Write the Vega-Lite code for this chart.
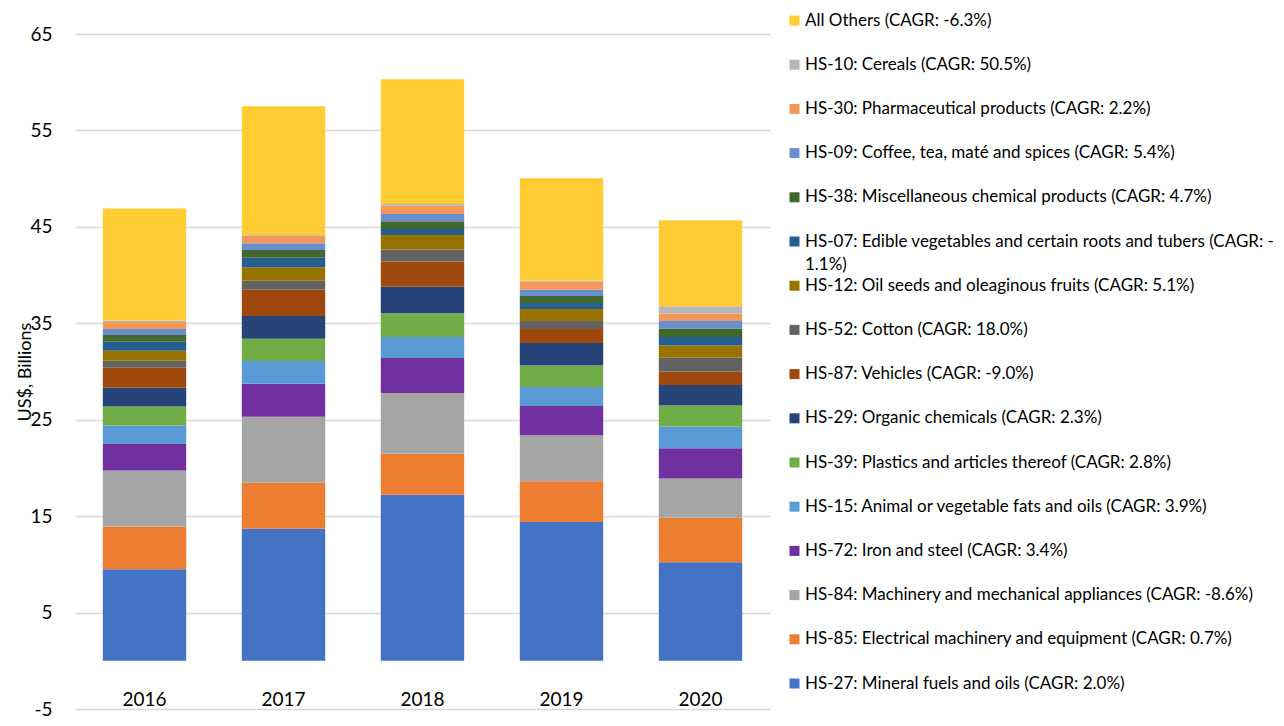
{
  "$schema": "https://vega.github.io/schema/vega-lite/v6.json",
  "width": 695,
  "height": 675,
  "autosize": {"type": "none"},
  "padding": {"left": 75, "top": 34, "right": 514, "bottom": 17},
  "background": "white",
  "config": {
    "font": "Lato",
    "view": {"stroke": null},
    "axis": {"labelColor": "#000000", "titleColor": "#000000", "labelFont": "Lato", "titleFont": "Lato"},
    "legend": {"labelFont": "Lato"}
  },
  "data": {
    "values": [
      {"series": "HS-27: Mineral fuels and oils (CAGR: 2.0%)", "k": 1, "year": "2016", "value": 9.50},
      {"series": "HS-27: Mineral fuels and oils (CAGR: 2.0%)", "k": 1, "year": "2017", "value": 13.69},
      {"series": "HS-27: Mineral fuels and oils (CAGR: 2.0%)", "k": 1, "year": "2018", "value": 17.22},
      {"series": "HS-27: Mineral fuels and oils (CAGR: 2.0%)", "k": 1, "year": "2019", "value": 14.38},
      {"series": "HS-27: Mineral fuels and oils (CAGR: 2.0%)", "k": 1, "year": "2020", "value": 10.23},
      {"series": "HS-85: Electrical machinery and equipment (CAGR: 0.7%)", "k": 2, "year": "2016", "value": 4.43},
      {"series": "HS-85: Electrical machinery and equipment (CAGR: 0.7%)", "k": 2, "year": "2017", "value": 4.77},
      {"series": "HS-85: Electrical machinery and equipment (CAGR: 0.7%)", "k": 2, "year": "2018", "value": 4.25},
      {"series": "HS-85: Electrical machinery and equipment (CAGR: 0.7%)", "k": 2, "year": "2019", "value": 4.25},
      {"series": "HS-85: Electrical machinery and equipment (CAGR: 0.7%)", "k": 2, "year": "2020", "value": 4.60},
      {"series": "HS-84: Machinery and mechanical appliances (CAGR: -8.6%)", "k": 3, "year": "2016", "value": 5.81},
      {"series": "HS-84: Machinery and mechanical appliances (CAGR: -8.6%)", "k": 3, "year": "2017", "value": 6.85},
      {"series": "HS-84: Machinery and mechanical appliances (CAGR: -8.6%)", "k": 3, "year": "2018", "value": 6.29},
      {"series": "HS-84: Machinery and mechanical appliances (CAGR: -8.6%)", "k": 3, "year": "2019", "value": 4.77},
      {"series": "HS-84: Machinery and mechanical appliances (CAGR: -8.6%)", "k": 3, "year": "2020", "value": 4.08},
      {"series": "HS-72: Iron and steel (CAGR: 3.4%)", "k": 4, "year": "2016", "value": 2.73},
      {"series": "HS-72: Iron and steel (CAGR: 3.4%)", "k": 4, "year": "2017", "value": 3.42},
      {"series": "HS-72: Iron and steel (CAGR: 3.4%)", "k": 4, "year": "2018", "value": 3.63},
      {"series": "HS-72: Iron and steel (CAGR: 3.4%)", "k": 4, "year": "2019", "value": 3.01},
      {"series": "HS-72: Iron and steel (CAGR: 3.4%)", "k": 4, "year": "2020", "value": 3.14},
      {"series": "HS-15: Animal or vegetable fats and oils (CAGR: 3.9%)", "k": 5, "year": "2016", "value": 1.94},
      {"series": "HS-15: Animal or vegetable fats and oils (CAGR: 3.9%)", "k": 5, "year": "2017", "value": 2.35},
      {"series": "HS-15: Animal or vegetable fats and oils (CAGR: 3.9%)", "k": 5, "year": "2018", "value": 2.18},
      {"series": "HS-15: Animal or vegetable fats and oils (CAGR: 3.9%)", "k": 5, "year": "2019", "value": 1.97},
      {"series": "HS-15: Animal or vegetable fats and oils (CAGR: 3.9%)", "k": 5, "year": "2020", "value": 2.25},
      {"series": "HS-39: Plastics and articles thereof (CAGR: 2.8%)", "k": 6, "year": "2016", "value": 1.97},
      {"series": "HS-39: Plastics and articles thereof (CAGR: 2.8%)", "k": 6, "year": "2017", "value": 2.32},
      {"series": "HS-39: Plastics and articles thereof (CAGR: 2.8%)", "k": 6, "year": "2018", "value": 2.46},
      {"series": "HS-39: Plastics and articles thereof (CAGR: 2.8%)", "k": 6, "year": "2019", "value": 2.25},
      {"series": "HS-39: Plastics and articles thereof (CAGR: 2.8%)", "k": 6, "year": "2020", "value": 2.18},
      {"series": "HS-29: Organic chemicals (CAGR: 2.3%)", "k": 7, "year": "2016", "value": 1.94},
      {"series": "HS-29: Organic chemicals (CAGR: 2.3%)", "k": 7, "year": "2017", "value": 2.35},
      {"series": "HS-29: Organic chemicals (CAGR: 2.3%)", "k": 7, "year": "2018", "value": 2.77},
      {"series": "HS-29: Organic chemicals (CAGR: 2.3%)", "k": 7, "year": "2019", "value": 2.32},
      {"series": "HS-29: Organic chemicals (CAGR: 2.3%)", "k": 7, "year": "2020", "value": 2.11},
      {"series": "HS-87: Vehicles (CAGR: -9.0%)", "k": 8, "year": "2016", "value": 2.07},
      {"series": "HS-87: Vehicles (CAGR: -9.0%)", "k": 8, "year": "2017", "value": 2.73},
      {"series": "HS-87: Vehicles (CAGR: -9.0%)", "k": 8, "year": "2018", "value": 2.62},
      {"series": "HS-87: Vehicles (CAGR: -9.0%)", "k": 8, "year": "2019", "value": 1.45},
      {"series": "HS-87: Vehicles (CAGR: -9.0%)", "k": 8, "year": "2020", "value": 1.39},
      {"series": "HS-52: Cotton (CAGR: 18.0%)", "k": 9, "year": "2016", "value": 0.72},
      {"series": "HS-52: Cotton (CAGR: 18.0%)", "k": 9, "year": "2017", "value": 0.94},
      {"series": "HS-52: Cotton (CAGR: 18.0%)", "k": 9, "year": "2018", "value": 1.22},
      {"series": "HS-52: Cotton (CAGR: 18.0%)", "k": 9, "year": "2019", "value": 0.83},
      {"series": "HS-52: Cotton (CAGR: 18.0%)", "k": 9, "year": "2020", "value": 1.45},
      {"series": "HS-12: Oil seeds and oleaginous fruits (CAGR: 5.1%)", "k": 10, "year": "2016", "value": 1.05},
      {"series": "HS-12: Oil seeds and oleaginous fruits (CAGR: 5.1%)", "k": 10, "year": "2017", "value": 1.38},
      {"series": "HS-12: Oil seeds and oleaginous fruits (CAGR: 5.1%)", "k": 10, "year": "2018", "value": 1.51},
      {"series": "HS-12: Oil seeds and oleaginous fruits (CAGR: 5.1%)", "k": 10, "year": "2019", "value": 1.24},
      {"series": "HS-12: Oil seeds and oleaginous fruits (CAGR: 5.1%)", "k": 10, "year": "2020", "value": 1.27},
      {"series": "HS-07: Edible vegetables and certain roots and tubers (CAGR: -1.1%)", "k": 11, "year": "2016", "value": 0.93},
      {"series": "HS-07: Edible vegetables and certain roots and tubers (CAGR: -1.1%)", "k": 11, "year": "2017", "value": 1.00},
      {"series": "HS-07: Edible vegetables and certain roots and tubers (CAGR: -1.1%)", "k": 11, "year": "2018", "value": 0.62},
      {"series": "HS-07: Edible vegetables and certain roots and tubers (CAGR: -1.1%)", "k": 11, "year": "2019", "value": 0.63},
      {"series": "HS-07: Edible vegetables and certain roots and tubers (CAGR: -1.1%)", "k": 11, "year": "2020", "value": 0.89},
      {"series": "HS-38: Miscellaneous chemical products (CAGR: 4.7%)", "k": 12, "year": "2016", "value": 0.70},
      {"series": "HS-38: Miscellaneous chemical products (CAGR: 4.7%)", "k": 12, "year": "2017", "value": 0.79},
      {"series": "HS-38: Miscellaneous chemical products (CAGR: 4.7%)", "k": 12, "year": "2018", "value": 0.80},
      {"series": "HS-38: Miscellaneous chemical products (CAGR: 4.7%)", "k": 12, "year": "2019", "value": 0.72},
      {"series": "HS-38: Miscellaneous chemical products (CAGR: 4.7%)", "k": 12, "year": "2020", "value": 0.87},
      {"series": "HS-09: Coffee, tea, maté and spices (CAGR: 5.4%)", "k": 13, "year": "2016", "value": 0.62},
      {"series": "HS-09: Coffee, tea, maté and spices (CAGR: 5.4%)", "k": 13, "year": "2017", "value": 0.70},
      {"series": "HS-09: Coffee, tea, maté and spices (CAGR: 5.4%)", "k": 13, "year": "2018", "value": 0.76},
      {"series": "HS-09: Coffee, tea, maté and spices (CAGR: 5.4%)", "k": 13, "year": "2019", "value": 0.66},
      {"series": "HS-09: Coffee, tea, maté and spices (CAGR: 5.4%)", "k": 13, "year": "2020", "value": 0.79},
      {"series": "HS-30: Pharmaceutical products (CAGR: 2.2%)", "k": 14, "year": "2016", "value": 0.72},
      {"series": "HS-30: Pharmaceutical products (CAGR: 2.2%)", "k": 14, "year": "2017", "value": 0.80},
      {"series": "HS-30: Pharmaceutical products (CAGR: 2.2%)", "k": 14, "year": "2018", "value": 0.87},
      {"series": "HS-30: Pharmaceutical products (CAGR: 2.2%)", "k": 14, "year": "2019", "value": 0.84},
      {"series": "HS-30: Pharmaceutical products (CAGR: 2.2%)", "k": 14, "year": "2020", "value": 0.77},
      {"series": "HS-10: Cereals (CAGR: 50.5%)", "k": 15, "year": "2016", "value": 0.16},
      {"series": "HS-10: Cereals (CAGR: 50.5%)", "k": 15, "year": "2017", "value": 0.07},
      {"series": "HS-10: Cereals (CAGR: 50.5%)", "k": 15, "year": "2018", "value": 0.17},
      {"series": "HS-10: Cereals (CAGR: 50.5%)", "k": 15, "year": "2019", "value": 0.10},
      {"series": "HS-10: Cereals (CAGR: 50.5%)", "k": 15, "year": "2020", "value": 0.75},
      {"series": "All Others (CAGR: -6.3%)", "k": 16, "year": "2016", "value": 11.62},
      {"series": "All Others (CAGR: -6.3%)", "k": 16, "year": "2017", "value": 13.35},
      {"series": "All Others (CAGR: -6.3%)", "k": 16, "year": "2018", "value": 12.93},
      {"series": "All Others (CAGR: -6.3%)", "k": 16, "year": "2019", "value": 10.61},
      {"series": "All Others (CAGR: -6.3%)", "k": 16, "year": "2020", "value": 8.92}
    ]
  },
  "mark": {"type": "bar"},
  "encoding": {
    "x": {
      "field": "year",
      "type": "ordinal",
      "scale": {"paddingInner": 0.4, "paddingOuter": 0.2},
      "axis": {
        "title": null,
        "domain": false,
        "ticks": false,
        "tickSize": 0,
        "grid": false,
        "labelAngle": 0,
        "labelFontSize": 19,
        "labelBaseline": "alphabetic",
        "labelPadding": -4
      }
    },
    "y": {
      "field": "value",
      "type": "quantitative",
      "stack": "zero",
      "scale": {"domain": [-5, 65], "nice": false, "zero": false},
      "axis": {
        "values": [-5, 5, 15, 25, 35, 45, 55, 65],
        "labelExpr": "'' + datum.value",
        "title": "US$, Billions",
        "titleFontSize": 18,
        "titleFontWeight": "normal",
        "titleX": -50,
        "titleY": 337.5,
        "titleAngle": -90,
        "titleAlign": "center",
        "titleBaseline": "middle",
        "domain": false,
        "ticks": false,
        "tickSize": 0,
        "labelFontSize": 19,
        "labelPadding": 23,
        "grid": true,
        "gridColor": "#D9D9D9",
        "gridWidth": 1.3
      }
    },
    "color": {
      "field": "series",
      "type": "nominal",
      "scale": {
        "domain": [
          "All Others (CAGR: -6.3%)",
          "HS-10: Cereals (CAGR: 50.5%)",
          "HS-30: Pharmaceutical products (CAGR: 2.2%)",
          "HS-09: Coffee, tea, maté and spices (CAGR: 5.4%)",
          "HS-38: Miscellaneous chemical products (CAGR: 4.7%)",
          "HS-07: Edible vegetables and certain roots and tubers (CAGR: -1.1%)",
          "HS-12: Oil seeds and oleaginous fruits (CAGR: 5.1%)",
          "HS-52: Cotton (CAGR: 18.0%)",
          "HS-87: Vehicles (CAGR: -9.0%)",
          "HS-29: Organic chemicals (CAGR: 2.3%)",
          "HS-39: Plastics and articles thereof (CAGR: 2.8%)",
          "HS-15: Animal or vegetable fats and oils (CAGR: 3.9%)",
          "HS-72: Iron and steel (CAGR: 3.4%)",
          "HS-84: Machinery and mechanical appliances (CAGR: -8.6%)",
          "HS-85: Electrical machinery and equipment (CAGR: 0.7%)",
          "HS-27: Mineral fuels and oils (CAGR: 2.0%)"
        ],
        "range": [
          "#FFCD33", "#B7B7B7", "#F1975A", "#698ED0", "#43682B", "#255E91", "#997300", "#636363",
          "#9E480E", "#264478", "#70AD47", "#5B9BD5", "#7030A0", "#A5A5A5", "#ED7D31", "#4472C4"
        ]
      },
      "legend": {
        "title": null,
        "orient": "none",
        "legendX": 711,
        "legendY": -22,
        "padding": 0,
        "symbolType": "square",
        "symbolSize": 100,
        "symbolStrokeWidth": 0,
        "labelFontSize": 17,
        "labelColor": "#000000",
        "labelOffset": 2,
        "labelLimit": 700,
        "rowPadding": 3.2,
        "labelExpr": "datum.label == 'HS-07: Edible vegetables and certain roots and tubers (CAGR: -1.1%)' ? ['HS-07: Edible vegetables and certain roots and tubers (CAGR: -', '1.1%)'] : [datum.label, '']",
        "encode": {"labels": {"update": {"lineHeight": {"value": 23}}}}
      }
    },
    "order": {"field": "k", "type": "quantitative", "sort": "ascending"}
  }
}
